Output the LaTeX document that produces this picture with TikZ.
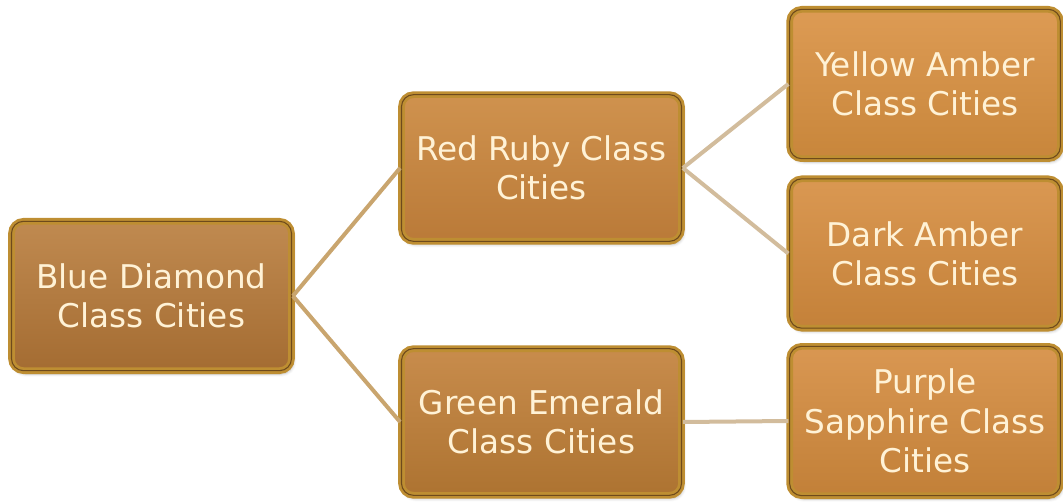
\documentclass[tikz,border=0pt]{standalone}
\usepackage{fontspec}
\setmainfont{DejaVu Sans}
\usetikzlibrary{shadows.blur}
\definecolor{goldline}{HTML}{BE8E32}
\definecolor{darkline}{HTML}{6E4A1C}
\definecolor{txt}{HTML}{FFF2D6}
\definecolor{connA}{HTML}{C9A56E}
\definecolor{connB}{HTML}{D2BC9C}
\definecolor{blueT}{HTML}{C08A50}\definecolor{blueB}{HTML}{A46C32}
\definecolor{redT}{HTML}{CF924E}\definecolor{redB}{HTML}{BA7A38}
\definecolor{greenT}{HTML}{C88C4C}\definecolor{greenB}{HTML}{AD7331}
\definecolor{yelT}{HTML}{DD9B54}\definecolor{yelB}{HTML}{C8863B}
\definecolor{darkT}{HTML}{DA9852}\definecolor{darkB}{HTML}{C48139}
\definecolor{purT}{HTML}{D99752}\definecolor{purB}{HTML}{C28038}
\tikzset{
  citybox/.style 2 args={rectangle, rounded corners=9pt,
    draw=goldline, double=darkline, double distance=0.8pt, line width=2.1pt,
    top color=#1, bottom color=#2,
    text=txt, align=center, font=\fontsize{24.5}{29.5}\selectfont,
    inner sep=0pt,
    blur shadow={shadow xshift=1.5pt, shadow yshift=-2.5pt, shadow blur steps=6, shadow opacity=25}},
  conn/.style={line width=3pt, draw=#1}
}
\begin{document}
\begin{tikzpicture}[x=0.75pt,y=-0.75pt]
\useasboundingbox (0,0) rectangle (1063,502);
\node[citybox={blueT}{blueB}, minimum width=210pt, minimum height=112pt] (blue) at (151.5,296) {Blue Diamond\\Class Cities};
\node[citybox={redT}{redB}, minimum width=210pt, minimum height=110pt] (red) at (541.5,168) {Red Ruby Class\\Cities};
\node[citybox={greenT}{greenB}, minimum width=210pt, minimum height=110pt] (green) at (541.5,422) {Green Emerald\\Class Cities};
\node[citybox={yelT}{yelB}, minimum width=203pt, minimum height=112pt] (yellow) at (925,84) {Yellow Amber\\Class Cities};
\node[citybox={darkT}{darkB}, minimum width=203pt, minimum height=112pt] (dark) at (925,253.5) {Dark Amber\\Class Cities};
\node[citybox={purT}{purB}, minimum width=203pt, minimum height=112pt] (purple) at (925,421) {Purple\\Sapphire Class\\Cities};
\draw[conn=connA] (blue.east) -- (red.west);
\draw[conn=connA] (blue.east) -- (green.west);
\draw[conn=connB] (red.east) -- (yellow.west);
\draw[conn=connB] (red.east) -- (dark.west);
\draw[conn=connB] (green.east) -- (purple.west);
\end{tikzpicture}
\end{document}
